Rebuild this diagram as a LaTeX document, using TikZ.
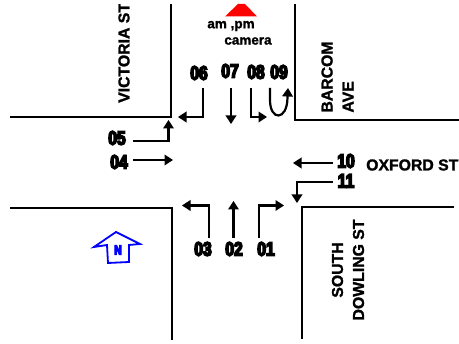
\documentclass[tikz,border=0pt]{standalone}
\usepackage{fontspec}
\usetikzlibrary{arrows.meta}
\setmainfont{Liberation Sans}
\newfontfamily\numfont[FakeBold=8,FakeStretch=0.8]{Liberation Sans Bold}
\newfontfamily\lblfont[FakeBold=1.5]{Liberation Sans Bold}
\tikzset{
  curb/.style={line width=2pt,black},
  flow/.style={line width=2.2pt,black,-{Triangle[width=10.5pt,length=8.5pt]}},
  num/.style={inner sep=0pt,font=\numfont\fontsize{19.5}{20}\selectfont},
  street/.style={inner sep=0pt,font=\lblfont\fontsize{15.8}{21}\selectfont,align=center},
  note/.style={inner sep=0pt,font=\lblfont\fontsize{13.5}{15}\selectfont},
}
\begin{document}
\begin{tikzpicture}[x=1pt,y=-1pt]
\useasboundingbox (0,0) rectangle (459,344);
% kerbs
\draw[curb] (10,117) -- (171,117) -- (171,4);
\draw[curb] (295,4) -- (295,120) -- (459,120);
\draw[curb] (10,208) -- (172,208) -- (172,340);
\draw[curb] (454,207) -- (302,207) -- (302,339);
% camera
\fill[red] (225,16.5) -- (238,4) -- (245,4) -- (257,16.5) -- cycle;
\node[note] (am) at (231,26) {am ,pm};
\node[note] (cam) at (248,41) {camera};
% streets
\begin{scope}
\clip (0,5) rectangle (459,344);
\node[street,rotate=90,anchor=west] (vic) at (124,103) {VICTORIA ST};
\end{scope}
\node[street,rotate=90,align=left] (bar) at (337.5,77) {BARCOM\\AVE};
\node[street,rotate=90] (sou) at (348,270) {SOUTH\\DOWLING ST};
\node[street,anchor=west] (oxf) at (366,165) {OXFORD ST};
% numbers
\node[num] (n06) at (199,73) {06};
\node[num] (n07) at (230,71) {07};
\node[num] (n08) at (256,72) {08};
\node[num] (n09) at (279,72) {09};
\node[num] (n05) at (117,138) {05};
\node[num] (n04) at (119,162) {04};
\node[num] (n03) at (203,249) {03};
\node[num] (n02) at (234,249) {02};
\node[num] (n01) at (266,249) {01};
\node[num] (n10) at (346,161) {10};
\node[num] (n11) at (346,181) {11};
% flow ends
\coordinate (s06) at (203,88); \coordinate (e06) at (178,117);
\coordinate (s07) at (231,88); \coordinate (e07) at (231,124);
\coordinate (s08) at (251,88); \coordinate (e08) at (267,117);
\coordinate (s09) at (270,88); \coordinate (e09) at (288,88);
\coordinate (s05) at (133,141); \coordinate (e05) at (168.5,120);
\coordinate (s04) at (133,160); \coordinate (e04) at (173,160);
\coordinate (s03) at (209,238); \coordinate (e03) at (182,205.5);
\coordinate (s02) at (233.5,238); \coordinate (e02) at (233.5,201);
\coordinate (s01) at (259,238); \coordinate (e01) at (284,205.5);
\coordinate (s10) at (333,163); \coordinate (e10) at (293,163);
\coordinate (s11) at (333,182); \coordinate (e11) at (297,203);
% flows
\draw[flow] (s06) |- (e06);
\draw[flow] (s07) -- (e07);
\draw[flow] (s08) |- (e08);
\draw[flow] (s09) -- (270,100) .. controls (270,121) and (287,121) .. (287.5,98) -- (e09);
\draw[flow] (s05) -| (e05);
\draw[flow] (s04) -- (e04);
\draw[flow] (s03) |- (e03);
\draw[flow] (s02) -- (e02);
\draw[flow] (s01) |- (e01);
\draw[flow] (s10) -- (e10);
\draw[flow] (s11) -| (e11);
% north arrow
\draw[blue,line width=1.8pt,line join=miter] (116,232) -- (140,244) -- (129,245) -- (129,262) -- (108,263) -- (107,245) -- (94,247) -- cycle;
\node[inner sep=0pt,text=blue,font=\numfont\fontsize{13.5}{14}\selectfont] (north) at (118,250) {N};
\end{tikzpicture}
\end{document}
